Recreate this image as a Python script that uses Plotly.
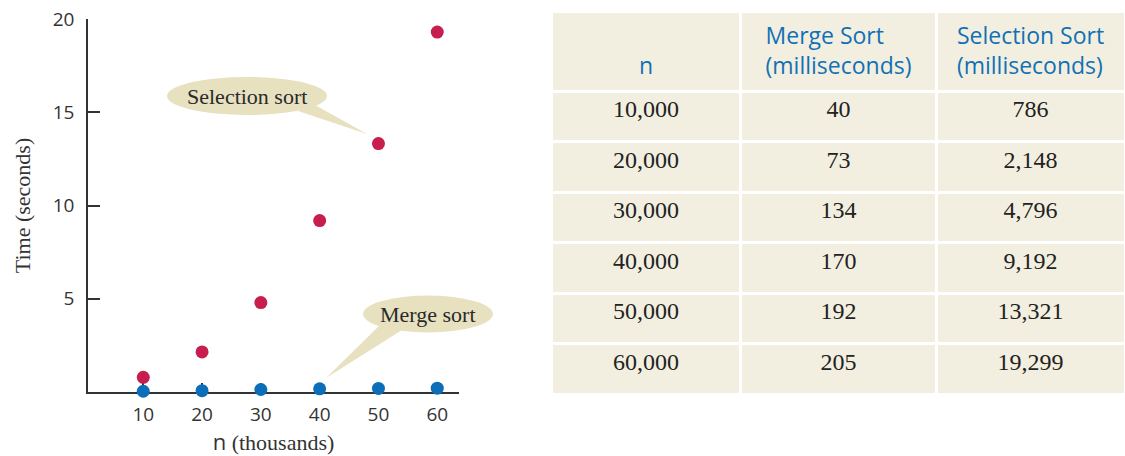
import plotly.graph_objects as go

# Benchmark results: array size vs. running time
n_values = [10000, 20000, 30000, 40000, 50000, 60000]
merge_ms = [40, 73, 134, 170, 192, 205]
selection_ms = [786, 2148, 4796, 9192, 13321, 19299]

x_ticks = [10, 20, 30, 40, 50, 60]
y_ticks = [5, 10, 15, 20]

header_labels = ["&nbsp;<br>n", "Merge Sort<br>(milliseconds)", "Selection Sort<br>(milliseconds)"]

W, H = 1125, 456
SERIF = "Liberation Serif"
SANS = "Open Sans"
RED = "#C81E4E"
BLUE = "#0A6EB8"
BEIGE = "#F2EFE0"
BUBBLE = "#E7E1C0"
BLUE_TEXT = "#1271B5"

# Plot area in pixels
PX0, PX1 = 88, 459
PY0, PY1 = 19, 392
XR = [0.6, 63.7]
YR = [0, 20]

x_k = [v / 1000 for v in n_values]
merge_s = [v / 1000 for v in merge_ms]
sel_s = [v / 1000 for v in selection_ms]

fig = go.Figure()

fig.add_trace(go.Scatter(
    x=x_k, y=sel_s, mode="markers",
    marker=dict(color=RED, size=13, line=dict(width=0)),
    cliponaxis=False, showlegend=False, hoverinfo="skip"))
fig.add_trace(go.Scatter(
    x=x_k, y=merge_s, mode="markers",
    marker=dict(color=BLUE, size=13, line=dict(width=0)),
    cliponaxis=False, showlegend=False, hoverinfo="skip"))


def fmt(v):
    return f"{v:,}"


# Table shifted a few pixels down so body text sits closer to row centres
fig.add_trace(go.Table(
    domain=dict(x=[551 / W, 1.0], y=[0.0, 1 - 11 / H]),
    columnwidth=[189, 194, 188],
    header=dict(
        values=header_labels,
        fill_color=BEIGE,
        line=dict(color="white", width=3),
        align="center",
        font=dict(family=SANS, size=23, color=BLUE_TEXT),
        height=80,
    ),
    cells=dict(
        values=[[fmt(v) for v in n_values],
                [fmt(v) for v in merge_ms],
                [fmt(v) for v in selection_ms]],
        fill_color=BEIGE,
        line=dict(color="white", width=3),
        align="center",
        font=dict(family=SERIF, size=24, color="#222222"),
        height=50.5,
    ),
))


def to_paper(px, py):
    return px / W, 1 - py / H


def bubble(cx, cy, w, h, tail, text, size):
    x0, y0 = to_paper(cx - w / 2, cy + h / 2)
    x1, y1 = to_paper(cx + w / 2, cy - h / 2)
    pts = [to_paper(*p) for p in tail]
    path = "M {} {} L {} {} L {} {} Z".format(
        pts[0][0], pts[0][1], pts[1][0], pts[1][1], pts[2][0], pts[2][1])
    fig.add_shape(type="path", xref="paper", yref="paper", path=path,
                  fillcolor=BUBBLE, line=dict(width=0), layer="below")
    fig.add_shape(type="circle", xref="paper", yref="paper",
                  x0=x0, y0=y0, x1=x1, y1=y1,
                  fillcolor=BUBBLE, line=dict(width=0), layer="below")
    tx, ty = to_paper(cx, cy)
    fig.add_annotation(x=tx, y=ty, xref="paper", yref="paper", text=text,
                       showarrow=False, xanchor="center", yanchor="middle",
                       font=dict(family=SERIF, size=size, color="#2a2a2a"))


bubble(247, 96, 160, 38, [(298, 111), (315, 105), (367, 134)], "Selection sort", 22)
bubble(428, 314, 130, 37, [(380, 325), (402, 330), (326, 378)], "Merge sort", 22)

fig.update_layout(
    width=W, height=H,
    margin=dict(l=0, r=0, t=0, b=0),
    paper_bgcolor="white", plot_bgcolor="white",
    xaxis=dict(
        domain=[PX0 / W, PX1 / W], range=XR, automargin=False,
        layer="below traces",
        tickvals=x_ticks, ticks="inside", ticklen=9, tickwidth=1.5,
        tickcolor="#333", showline=True, linecolor="#333", linewidth=1.5,
        showgrid=False, zeroline=False,
        tickfont=dict(family=SANS, size=19, color="#333"),
        ticklabelstandoff=4,
        title=dict(
            text="<span style='font-family:Open Sans'>n</span> (thousands)",
            font=dict(family=SERIF, size=22, color="#333"), standoff=12),
    ),
    yaxis=dict(
        domain=[1 - PY1 / H, 1 - PY0 / H], range=YR, automargin=False,
        layer="below traces",
        tickvals=y_ticks, ticks="inside", ticklen=12, tickwidth=1.5,
        tickcolor="#333", showline=True, linecolor="#333", linewidth=1.5,
        showgrid=False, zeroline=False,
        tickfont=dict(family=SANS, size=19, color="#333"),
        ticklabelstandoff=8,
        title=dict(text="Time (seconds)",
                   font=dict(family=SERIF, size=22, color="#333"), standoff=16),
    ),
)

fig.write_html("out.html")
